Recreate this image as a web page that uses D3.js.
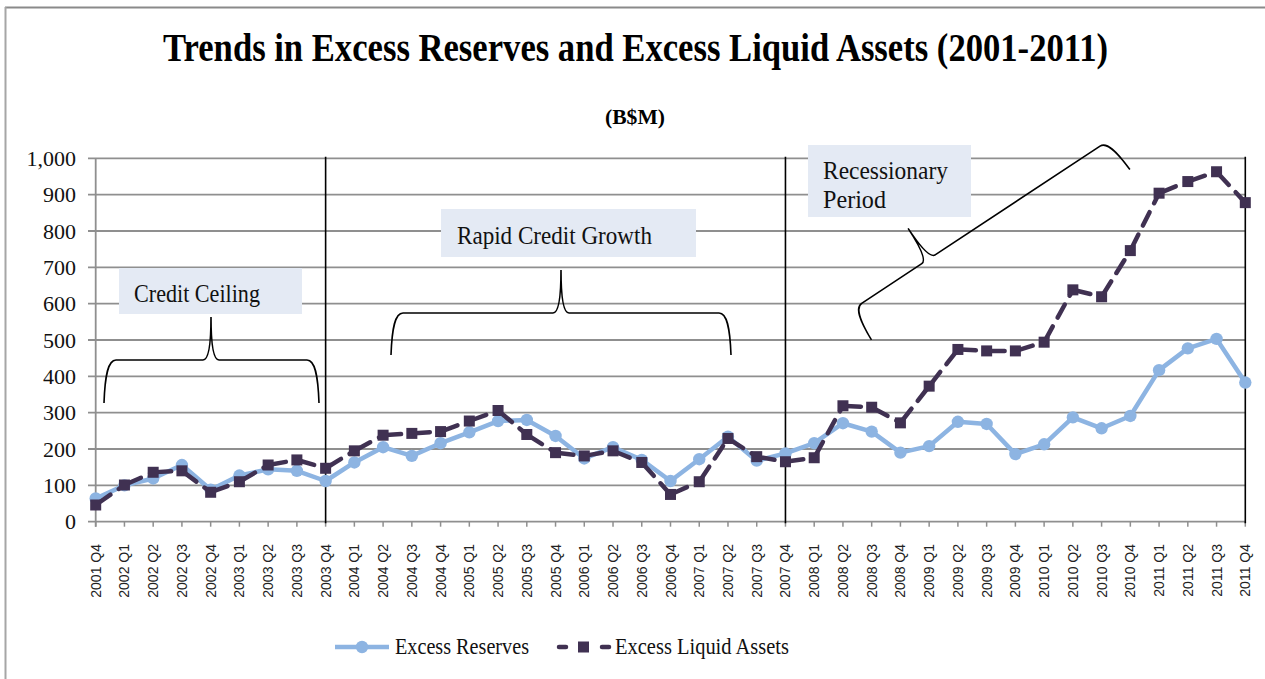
<!DOCTYPE html>
<html><head><meta charset="utf-8">
<script src="https://cdn.jsdelivr.net/npm/d3@7"></script>
<style>html,body{margin:0;padding:0;background:#fff;} svg{display:block;}</style>
</head><body>
<svg id="chart" width="1265" height="679"></svg>
<script>
const categories = ["2001 Q4","2002 Q1","2002 Q2","2002 Q3","2002 Q4","2003 Q1","2003 Q2","2003 Q3","2003 Q4",
  "2004 Q1","2004 Q2","2004 Q3","2004 Q4","2005 Q1","2005 Q2","2005 Q3","2005 Q4",
  "2006 Q1","2006 Q2","2006 Q3","2006 Q4","2007 Q1","2007 Q2","2007 Q3","2007 Q4",
  "2008 Q1","2008 Q2","2008 Q3","2008 Q4","2009 Q1","2009 Q2","2009 Q3","2009 Q4",
  "2010 Q1","2010 Q2","2010 Q3","2010 Q4","2011 Q1","2011 Q2","2011 Q3","2011 Q4"];
const excessReserves = [64,100,119,156,88,127,144,140,112,163,205,181,216,246,277,280,236,174,205,170,112,172,234,168,188,
  216,271,248,190,208,275,269,186,213,287,257,291,417,477,503,383];
const excessLiquid = [46,101,136,140,81,110,156,170,147,195,238,243,248,277,306,240,190,181,195,163,75,110,229,179,165,
  176,319,315,272,373,474,470,470,494,638,619,746,904,936,963,878];
const yTicks = [0,100,200,300,400,500,600,700,800,900,1000];
const seriesNames = ["Excess Reserves","Excess Liquid Assets"];
const periodLines = ["2003 Q4","2007 Q4","2011 Q4"];
const periodLabels = ["Credit Ceiling","Rapid Credit Growth","Recessionary","Period"];
const titleText = "Trends in Excess Reserves and Excess Liquid Assets (2001-2011)";
const subtitleText = "(B$M)";

const svg = d3.select("#chart");
const C_RES = "#8DB4E2", C_LIQ = "#403152", GRID = "#8f8f8f";
const SERIF = "'Liberation Serif','DejaVu Serif',serif";

svg.append("rect").attr("width",1265).attr("height",679).attr("fill","#fff");
// outer frame (top + left visible)
svg.append("line").attr("x1",5).attr("x2",1265).attr("y1",7.5).attr("y2",7.5).attr("stroke","#8a8a8a").attr("stroke-width",2);
svg.append("line").attr("x1",5.5).attr("x2",5.5).attr("y1",7).attr("y2",679).attr("stroke","#a6a6a6").attr("stroke-width",2);

const x = d3.scalePoint().domain(categories).range([95.7,1245.3]);
const y = d3.scaleLinear().domain([0,1000]).range([521.7,158.3]);

// title
svg.append("text").attr("x",635.5).attr("y",61).attr("text-anchor","middle")
  .attr("font-family",SERIF).attr("font-weight","bold").attr("font-size",39)
  .attr("textLength",945).attr("lengthAdjust","spacingAndGlyphs").text(titleText);
svg.append("text").attr("x",635).attr("y",124).attr("text-anchor","middle")
  .attr("font-family",SERIF).attr("font-weight","bold").attr("font-size",22)
  .attr("textLength",60).attr("lengthAdjust","spacingAndGlyphs").text(subtitleText);

// gridlines
svg.append("g").selectAll("line").data(yTicks).join("line")
  .attr("x1",88).attr("x2",1246).attr("y1",d=>y(d)).attr("y2",d=>y(d))
  .attr("stroke",GRID).attr("stroke-width",1.8);
// y axis line
svg.append("line").attr("x1",95.7).attr("x2",95.7).attr("y1",y(1000)).attr("y2",y(0)+5)
  .attr("stroke",GRID).attr("stroke-width",1.8);
// y labels
svg.append("g").selectAll("text").data(yTicks).join("text")
  .attr("x",76).attr("y",d=>y(d)).attr("dy","0.35em").attr("text-anchor","end")
  .attr("font-family",SERIF).attr("font-size",22).attr("fill","#111")
  .text(d=>d3.format(",")(d));

// x ticks
svg.append("g").selectAll("line").data(categories).join("line")
  .attr("x1",d=>x(d)).attr("x2",d=>x(d)).attr("y1",y(0)).attr("y2",y(0)+5)
  .attr("stroke",GRID).attr("stroke-width",1.5);
// x labels rotated
svg.append("g").selectAll("text").data(categories).join("text")
  .attr("transform",d=>`translate(${x(d)+5},544) rotate(-90)`)
  .attr("text-anchor","end").attr("font-family","'Liberation Sans',Arial,sans-serif")
  .attr("font-size",14).attr("fill","#222").text(d=>d);

// period divider lines
svg.append("g").selectAll("line").data(periodLines).join("line")
  .attr("x1",d=>x(d)).attr("x2",d=>x(d)).attr("y1",y(1000)-1.5).attr("y2",y(0)+1.5)
  .attr("stroke","#000").attr("stroke-width",1.6);

// annotation boxes
const boxes = [
  {x:119,y:268,w:183,h:46,lines:[periodLabels[0]],tx:134,ty:[302],tl:[126]},
  {x:441,y:209,w:255,h:48,lines:[periodLabels[1]],tx:457,ty:[243.5],tl:[195]},
  {x:808,y:145,w:163,h:72,lines:[periodLabels[2],periodLabels[3]],tx:823,ty:[179,208],tl:[125,63]}
];
boxes.forEach(b=>{
  svg.append("rect").attr("x",b.x).attr("y",b.y).attr("width",b.w).attr("height",b.h).attr("fill","#E4EAF4");
  b.lines.forEach((t,i)=>{
    svg.append("text").attr("x",b.tx).attr("y",b.ty[i]).attr("font-family",SERIF).attr("font-size",25)
      .attr("fill","#111").attr("textLength",b.tl[i]).attr("lengthAdjust","spacingAndGlyphs").text(t);
  });
});

// braces
function brace(p1,p2,h,c,sh){
  const dx=p2[0]-p1[0], dy=p2[1]-p1[1], L=Math.hypot(dx,dy);
  const u=[dx/L,dy/L], n=[-u[1],u[0]];
  const P=(s,t)=>[p1[0]+s*u[0]+t*n[0], p1[1]+s*u[1]+t*n[1]].map(v=>v.toFixed(2)).join(",");
  return `M${P(-4,h)} C${P(-3,h*0.35)} ${P(0,0)} ${P(8,0)} L${P(c-8,0)} C${P(c-2,0)} ${P(c,-sh*0.45)} ${P(c,-sh)} `+
         `M${P(c,-sh)} C${P(c,-sh*0.45)} ${P(c+2,0)} ${P(c+8,0)} L${P(L-8,0)} C${P(L,0)} ${P(L+3,h*0.35)} ${P(L+4,h)}`;
}
const braces = [
  brace([108,360],[315,360],43,103,43),
  brace([395,313],[727,313],42,166,43),
  brace([855,307.7],[1106.7,141.7],36,88,37)
];
svg.append("g").selectAll("path").data(braces).join("path").attr("d",d=>d)
  .attr("fill","none").attr("stroke","#000").attr("stroke-width",1.6);

// series
const resPts = categories.map((c,i)=>[x(c),y(excessReserves[i])]);
const liqPts = categories.map((c,i)=>[x(c),y(excessLiquid[i])]);
svg.append("path").attr("d",d3.line()(resPts)).attr("fill","none").attr("stroke",C_RES)
  .attr("stroke-width",4.5).attr("stroke-linejoin","round");
svg.append("g").selectAll("circle").data(resPts).join("circle")
  .attr("cx",d=>d[0]).attr("cy",d=>d[1]).attr("r",6.2).attr("fill",C_RES);

const segs = d3.pairs(liqPts);
svg.append("g").selectAll("line").data(segs).join("line")
  .attr("x1",d=>d[0][0]).attr("y1",d=>d[0][1]).attr("x2",d=>d[1][0]).attr("y2",d=>d[1][1])
  .attr("stroke",C_LIQ).attr("stroke-width",4.5).attr("stroke-linecap","round")
  .attr("stroke-dasharray","15,10").attr("stroke-dashoffset",-3);
svg.append("g").selectAll("rect").data(liqPts).join("rect")
  .attr("x",d=>d[0]-5.5).attr("y",d=>d[1]-5.5).attr("width",11).attr("height",11).attr("fill",C_LIQ);

// legend
const lg = svg.append("g");
lg.append("line").attr("x1",335).attr("x2",389).attr("y1",647).attr("y2",647).attr("stroke",C_RES).attr("stroke-width",4.5);
lg.append("circle").attr("cx",362).attr("cy",647).attr("r",6.2).attr("fill",C_RES);
lg.append("text").attr("x",395).attr("y",654).attr("font-family",SERIF).attr("font-size",23)
  .attr("textLength",134).attr("lengthAdjust","spacingAndGlyphs").attr("fill","#111").text(seriesNames[0]);
[[559,566],[602,609]].forEach(s=>lg.append("line").attr("x1",s[0]).attr("x2",s[1]).attr("y1",647).attr("y2",647)
  .attr("stroke",C_LIQ).attr("stroke-width",4.5).attr("stroke-linecap","round"));
lg.append("rect").attr("x",578).attr("y",641.5).attr("width",11).attr("height",11).attr("fill",C_LIQ);
lg.append("text").attr("x",615).attr("y",654).attr("font-family",SERIF).attr("font-size",23)
  .attr("textLength",174).attr("lengthAdjust","spacingAndGlyphs").attr("fill","#111").text(seriesNames[1]);
</script>
</body></html>
